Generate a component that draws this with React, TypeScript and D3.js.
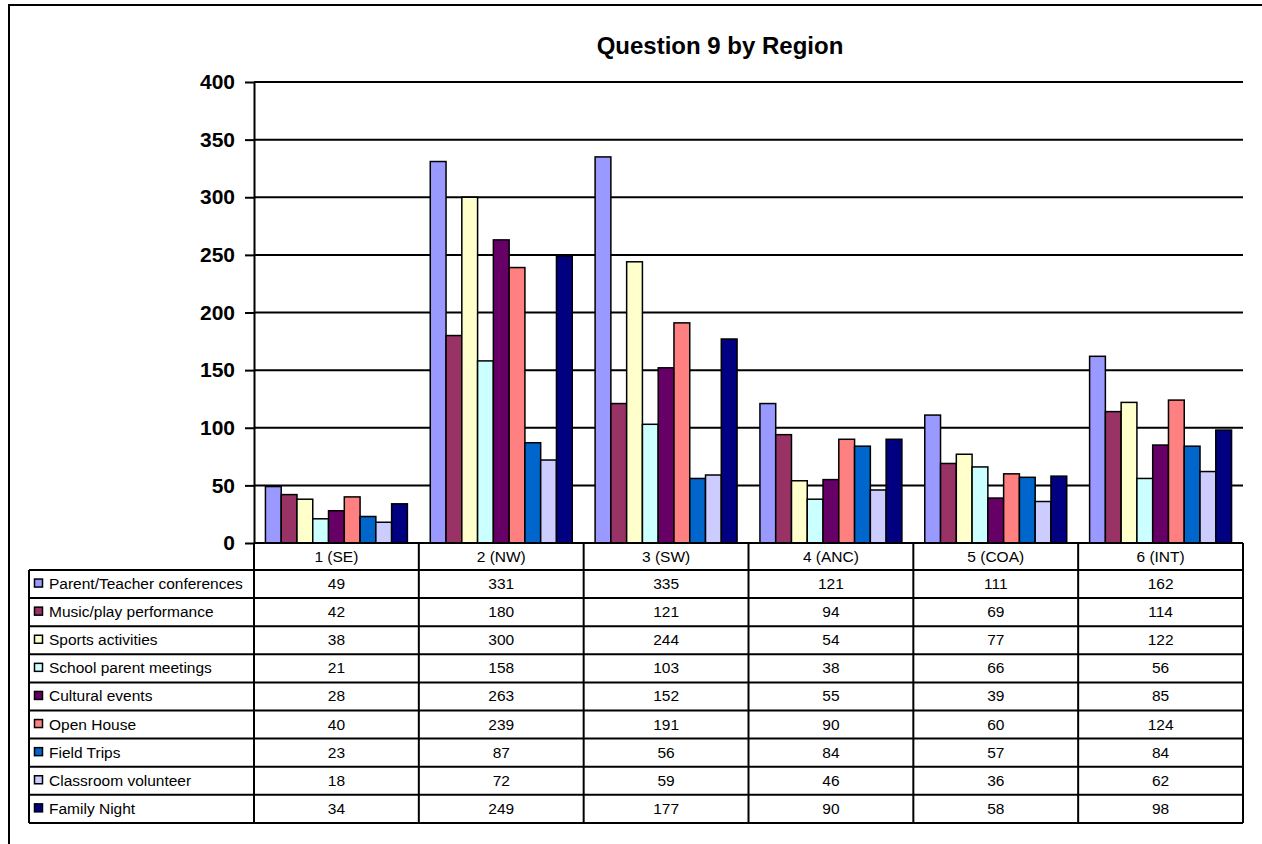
import React, { useEffect, useRef } from 'react';
import * as d3 from 'd3';

const regions = ['1 (SE)', '2 (NW)', '3 (SW)', '4 (ANC)', '5 (COA)', '6 (INT)'];

const seriesNames = [
  'Parent/Teacher conferences',
  'Music/play performance',
  'Sports activities',
  'School parent meetings',
  'Cultural events',
  'Open House',
  'Field Trips',
  'Classroom volunteer',
  'Family Night',
];

const seriesColors = ['#9999FF', '#993366', '#FFFFCC', '#CCFFFF', '#660066', '#FF8080', '#0066CC', '#CCCCFF', '#000080'];

const parentTeacher = [49, 331, 335, 121, 111, 162];
const musicPlay = [42, 180, 121, 94, 69, 114];
const sports = [38, 300, 244, 54, 77, 122];
const schoolMeetings = [21, 158, 103, 38, 66, 56];
const cultural = [28, 263, 152, 55, 39, 85];
const openHouse = [40, 239, 191, 90, 60, 124];
const fieldTrips = [23, 87, 56, 84, 57, 84];
const volunteer = [18, 72, 59, 46, 36, 62];
const familyNight = [34, 249, 177, 90, 58, 98];

const seriesValues = [parentTeacher, musicPlay, sports, schoolMeetings, cultural, openHouse, fieldTrips, volunteer, familyNight];

const yTicks = [0, 50, 100, 150, 200, 250, 300, 350, 400];

export default function App() {
  const svgRef = useRef<SVGSVGElement>(null);

  useEffect(() => {
    if (!svgRef.current) return;
    const width = 1262;
    const height = 844;
    const left = 254, right = 1243, top = 82, bottom = 543;
    const font = 'Arial, "Liberation Sans", sans-serif';

    const svg = d3.select(svgRef.current);
    svg.selectAll('*').remove();

    // chart frame
    svg.append('path')
      .attr('d', `M9,${height} L9,5 L${width},5`)
      .attr('fill', 'none')
      .attr('stroke', '#000')
      .attr('stroke-width', 2);

    const x = d3.scaleBand().domain(regions).range([left, right]);
    const catW = x.bandwidth();
    const barW = catW / 10.45;
    const groupPad = (catW - barW * 9) / 2;

    const y = d3.scaleLinear().domain([0, 400]).range([bottom, top]);

    svg.append('text')
      .attr('x', 720)
      .attr('y', 54)
      .attr('text-anchor', 'middle')
      .attr('font-family', font)
      .attr('font-weight', 'bold')
      .attr('font-size', '24px')
      .text('Question 9 by Region');

    // gridlines
    svg.append('g')
      .selectAll('line')
      .data(yTicks.filter(t => t > 0))
      .enter()
      .append('line')
      .attr('x1', left)
      .attr('x2', right)
      .attr('y1', d => y(d))
      .attr('y2', d => y(d))
      .attr('stroke', '#000')
      .attr('stroke-width', 2);

    // y axis
    const yAxis = svg.append('g')
      .attr('transform', `translate(${left},0)`)
      .call(d3.axisLeft(y).tickValues(yTicks).tickSize(9).tickPadding(10).tickSizeOuter(0));
    yAxis.selectAll('path, line').attr('stroke', '#000').attr('stroke-width', 2);
    yAxis.selectAll('text')
      .attr('font-family', font)
      .attr('font-weight', 'bold')
      .attr('font-size', '21px')
      .attr('fill', '#000');

    // bars
    seriesValues.forEach((vals, si) => {
      svg.append('g')
        .selectAll('rect')
        .data(vals)
        .enter()
        .append('rect')
        .attr('x', (d, i) => x(regions[i])! + groupPad + si * barW)
        .attr('y', d => y(d))
        .attr('width', barW)
        .attr('height', d => y(0) - y(d))
        .attr('fill', seriesColors[si])
        .attr('stroke', '#000')
        .attr('stroke-width', 1.5);
    });

    // table
    const rowH = 28.1;
    const headerBottom = 570;
    const tableLeft = 29;
    const tableBottom = headerBottom + rowH * seriesNames.length;
    const tbl = svg.append('g');

    tbl.append('line').attr('x1', left).attr('x2', right).attr('y1', bottom).attr('y2', bottom)
      .attr('stroke', '#000').attr('stroke-width', 2);
    for (let r = 0; r <= seriesNames.length; r++) {
      const yy = headerBottom + r * rowH;
      tbl.append('line').attr('x1', tableLeft).attr('x2', right).attr('y1', yy).attr('y2', yy)
        .attr('stroke', '#000').attr('stroke-width', 2);
    }
    tbl.append('line').attr('x1', tableLeft).attr('x2', tableLeft).attr('y1', headerBottom).attr('y2', tableBottom)
      .attr('stroke', '#000').attr('stroke-width', 2);
    [...regions.map(r => x(r)!), right].forEach(xx => {
      tbl.append('line').attr('x1', xx).attr('x2', xx).attr('y1', bottom).attr('y2', tableBottom)
        .attr('stroke', '#000').attr('stroke-width', 2);
    });

    tbl.selectAll('.hdr')
      .data(regions)
      .enter()
      .append('text')
      .attr('x', d => x(d)! + catW / 2)
      .attr('y', 562)
      .attr('text-anchor', 'middle')
      .attr('font-family', font)
      .attr('font-size', '15.5px')
      .text(d => d);

    seriesNames.forEach((name, si) => {
      const cy = headerBottom + si * rowH + rowH / 2;
      tbl.append('rect')
        .attr('x', 34.5)
        .attr('y', cy - 5)
        .attr('width', 8)
        .attr('height', 8)
        .attr('fill', seriesColors[si])
        .attr('stroke', '#000')
        .attr('stroke-width', 1.5);
      tbl.append('text')
        .attr('x', 49)
        .attr('y', cy + 5)
        .attr('font-family', font)
        .attr('font-size', '15.5px')
        .text(name);
      seriesValues[si].forEach((v, i) => {
        tbl.append('text')
          .attr('x', x(regions[i])! + catW / 2)
          .attr('y', cy + 5)
          .attr('text-anchor', 'middle')
          .attr('font-family', font)
          .attr('font-size', '15.5px')
          .text(v);
      });
    });
  }, []);

  return (
    <svg
      ref={svgRef}
      width={1262}
      height={844}
      style={{ position: 'absolute', left: 0, top: 0, background: '#fff' }}
    />
  );
}
